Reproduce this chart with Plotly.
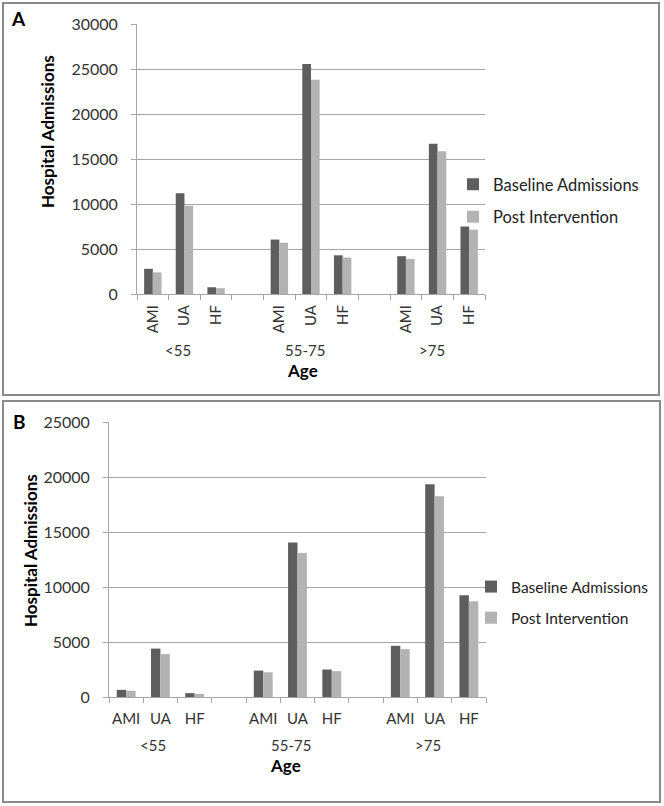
import plotly.graph_objects as go

# ---------------- data ----------------
ages = ["<55", "55-75", ">75"]
conditions = ["AMI", "UA", "HF"]

# Panel A (values per age group, in order AMI, UA, HF)
a_baseline = [2800, 11200, 750, 6050, 25550, 4300, 4200, 16700, 7500]
a_post = [2400, 9800, 650, 5700, 23800, 4050, 3900, 15850, 7150]

# Panel B
b_baseline = [650, 4400, 350, 2400, 14050, 2500, 4650, 19350, 9250]
b_post = [570, 3900, 280, 2250, 13100, 2350, 4350, 18250, 8700]

series_names = ["Baseline Admissions", "Post Intervention"]
series_colors = ["#5e5e5e", "#b3b3b3"]

# ---------------- helpers ----------------
W, H = 664, 806
def px(x):
    return x / W
def py(y):
    return 1 - y / H

# category slots: each age group takes 3 slots + 1 blank slot
xpos = [g * (len(conditions) + 1) + i for g in range(len(ages)) for i in range(len(conditions))]
xlabels = [c for _ in ages for c in conditions]
group_centers = [g * (len(conditions) + 1) + (len(conditions) - 1) / 2 for g in range(len(ages))]
nslots = len(ages) * (len(conditions) + 1) - 1
boundaries = [k - 0.5 for k in range(nslots + 1)]

FONT = "Lato"
GRID = "#a6a6a6"
TICKC = "#333333"

fig = go.Figure()

for vals, name, col in zip([a_baseline, a_post], series_names, series_colors):
    fig.add_trace(go.Bar(x=xpos, y=vals, name=name, marker=dict(color=col, line=dict(width=0)),
                         xaxis="x", yaxis="y", legend="legend", legendgroup="a" + name))
for vals, name, col in zip([b_baseline, b_post], series_names, series_colors):
    fig.add_trace(go.Bar(x=xpos, y=vals, name=name, marker=dict(color=col, line=dict(width=0)),
                         xaxis="x2", yaxis="y2", legend="legend2", legendgroup="b" + name))

def xaxis_cfg(domain, anchor, angle, size, standoff):
    return dict(domain=domain, anchor=anchor, range=[-0.5, nslots - 0.5], automargin=False,
                tickmode="array", tickvals=xpos, ticktext=xlabels, ticks="",
                tickangle=angle, tickfont=dict(family=FONT, size=size, color=TICKC),
                showline=True, linecolor=GRID, linewidth=1, showgrid=False, zeroline=False,
                ticklabelstandoff=standoff,
                minor=dict(tickmode="array", tickvals=boundaries, ticks="outside", ticklen=5,
                           tickcolor=GRID, tickwidth=1, showgrid=False))

def yaxis_cfg(domain, anchor, rng, size):
    return dict(domain=domain, anchor=anchor, range=rng, dtick=5000, tick0=0, automargin=False,
                tickformat="d",
                showgrid=True, gridcolor=GRID, gridwidth=1,
                showline=True, linecolor=GRID, linewidth=1, zeroline=False,
                ticks="outside", ticklen=5, tickcolor=GRID,
                tickfont=dict(family=FONT, size=size, color=TICKC), ticklabelstandoff=10)

fig.update_layout(
    template="none",
    width=W, height=H, margin=dict(l=0, r=0, t=0, b=0, pad=0, autoexpand=False),
    paper_bgcolor="white", plot_bgcolor="white",
    barmode="group", bargap=0.45, bargroupgap=0,
    font=dict(family=FONT, color="#222222"),
    xaxis=xaxis_cfg([px(137), px(485)], "y", -90, 15, 4),
    yaxis=yaxis_cfg([py(294), py(24)], "x", [0, 30000], 16),
    xaxis2=xaxis_cfg([px(109), px(486)], "y2", 0, 15, 8),
    yaxis2=yaxis_cfg([py(697), py(422)], "x2", [0, 25000], 16),
    legend=dict(x=px(453), y=py(167), xanchor="left", yanchor="top",
                font=dict(family=FONT, size=16.5, color="#222222"),
                tracegroupgap=8, bgcolor="rgba(0,0,0,0)"),
    legend2=dict(x=px(471), y=py(570), xanchor="left", yanchor="top",
                 font=dict(family=FONT, size=15.5, color="#222222"),
                 tracegroupgap=8, bgcolor="rgba(0,0,0,0)"),
    showlegend=True,
)

shapes = [
    dict(type="rect", xref="paper", yref="paper", x0=px(3), x1=px(659), y0=py(3), y1=py(395),
         line=dict(color="#8a8a8a", width=2), fillcolor="rgba(0,0,0,0)", layer="below"),
    dict(type="rect", xref="paper", yref="paper", x0=px(3), x1=px(660), y0=py(401), y1=py(802),
         line=dict(color="#8a8a8a", width=2), fillcolor="rgba(0,0,0,0)", layer="below"),
]
fig.update_layout(shapes=shapes)

def label(text, x, y, size, color="black", angle=0, xref="paper", xshift=0):
    return dict(text=text, x=x, y=y, xref=xref, yref="paper", showarrow=False,
                xanchor="center", yanchor="middle", textangle=angle, xshift=xshift,
                font=dict(family=FONT, size=size, color=color))

ann = []
# panel letters
ann.append(label("<b>A</b>", px(18.5), py(19), 19))
ann.append(label("<b>B</b>", px(19), py(421), 19))
# y titles
ann.append(label("<b>Hospital Admissions</b>", px(47), py(132), 17, angle=-90))
ann.append(label("<b>Hospital Admissions</b>", px(30), py(551), 17, angle=-90))
# x titles
ann.append(label("<b>Age</b>", px(302), py(370), 17))
ann.append(label("<b>Age</b>", px(285), py(765), 17))
# age group labels
for gc, age in zip(group_centers, ages):
    ann.append(label(age, gc, py(350), 15, color=TICKC, xref="x", xshift=-6))
    ann.append(label(age, gc, py(745), 15, color=TICKC, xref="x2", xshift=-7))
fig.update_layout(annotations=ann)

fig.write_html("out.html", config={"displayModeBar": False},
               post_script="document.body.style.margin='0px';document.body.style.overflow='hidden';")
